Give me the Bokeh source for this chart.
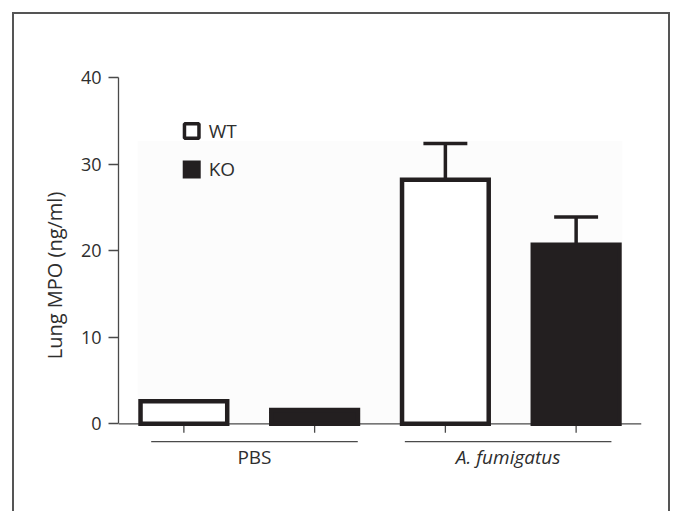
from bokeh.plotting import figure
from bokeh.models import Range1d, FixedTicker
from bokeh.core.properties import value
from bokeh.embed import file_html
from bokeh.resources import INLINE

# ---- data -------------------------------------------------------------
groups = ["PBS", "A. fumigatus"]
genotypes = ["WT", "KO"]
# order: PBS-WT, PBS-KO, A.fum-WT, A.fum-KO
mpo_mean = [2.6, 1.6, 28.2, 20.7]
mpo_err = [0.0, 0.0, 4.2, 3.2]
y_ticks = [0, 10, 20, 30, 40]
y_label = "Lung MPO (ng/ml)"

# ---- styling ----------------------------------------------------------
FONT = "Open Sans"
TXT = "#2e2e2e"
INK = "#231f20"
AXC = "#4a4a4a"

xs = [1, 2, 3, 4]
fills = ["white" if i % 2 == 0 else INK for i in range(len(xs))]
bar_w = 0.663

Y0, Y1 = -7.71, 42.0
FRAME_H = 430
px_per_unit = FRAME_H / (Y1 - Y0)

p = figure(width=658, height=499, output_backend="svg", toolbar_location=None,
           x_range=Range1d(0.5, 4.5), y_range=Range1d(Y0, Y1),
           x_axis_location=None, y_axis_location="left",
           min_border_left=104, min_border_right=31,
           min_border_top=46, min_border_bottom=23)
p.grid.visible = False
p.outline_line_color = None
p.background_fill_color = "white"
p.border_fill_color = "white"
p.styles = {"border-top": "2px solid #555555", "border-left": "2px solid #555555",
            "border-right": "2px solid #555555",
            "position": "relative", "left": "12px", "top": "12px"}

# faint backdrop behind the bars (as in the scanned figure)
p.quad(left=[xs[0] - 0.353], right=[xs[-1] + 0.353], bottom=[0],
       top=[max(m + e for m, e in zip(mpo_mean, mpo_err)) + 0.3],
       fill_color="#fcfcfc", line_color=None)

# y axis
ya = p.yaxis[0]
ya.ticker = FixedTicker(ticks=y_ticks)
ya.bounds = (0, 40)
ya.major_tick_out = 10
ya.major_tick_in = 0
ya.minor_tick_out = 0
ya.minor_tick_in = 0
ya.axis_line_color = AXC
ya.axis_line_width = 1.3
ya.major_tick_line_color = AXC
ya.major_tick_line_width = 1.3
ya.major_label_standoff = 7
ya.major_label_text_font = FONT
ya.major_label_text_font_size = "18px"
ya.major_label_text_color = TXT
ya.axis_label = y_label
ya.axis_label_text_font = FONT
ya.axis_label_text_font_size = "20px"
ya.axis_label_text_font_style = "normal"
ya.axis_label_text_color = TXT
ya.axis_label_standoff = 10

# x baseline at y = 0 with a tick under each bar
tick_len = 9 / px_per_unit
p.segment(x0=[0.5], y0=[0], x1=[4.5], y1=[0], line_color=AXC, line_width=1.3)
p.segment(x0=xs, y0=[0] * len(xs), x1=xs, y1=[-tick_len] * len(xs),
          line_color=AXC, line_width=1.3)

# bars
p.vbar(x=xs, top=mpo_mean, bottom=0, width=bar_w, fill_color=fills,
       line_color=INK, line_width=4.5, line_join="miter")

# error bars (upper only)
ex = [x for x, e in zip(xs, mpo_err) if e > 0]
e0 = [m for m, e in zip(mpo_mean, mpo_err) if e > 0]
e1 = [m + e for m, e in zip(mpo_mean, mpo_err) if e > 0]
cap = 0.168
p.segment(x0=ex, y0=e0, x1=ex, y1=e1, line_color=INK, line_width=3.5)
p.segment(x0=[x - cap for x in ex], y0=e1, x1=[x + cap for x in ex], y1=e1,
          line_color=INK, line_width=3.5)

# group underlines and labels
g_centers = [1.54, 3.48]
half = 0.79
p.segment(x0=[c - half for c in g_centers], y0=[-2.05] * 2,
          x1=[c + half for c in g_centers], y1=[-2.05] * 2,
          line_color=AXC, line_width=1.3)
p.text(x=[g_centers[0]], y=[-3.78], text=[groups[0]], text_align="center",
       text_baseline="middle", text_font=value(FONT), text_font_size="19px",
       text_color=TXT)
p.text(x=[g_centers[1]], y=[-3.78], text=[groups[1]], text_align="center",
       text_baseline="middle", text_font=value(FONT), text_font_size="19px",
       text_font_style="italic", text_color=TXT)

# legend (manual)
leg_x = 1.06
leg_y = [33.85, 29.4]
p.scatter(x=[leg_x], y=[leg_y[0]], marker="square", size=14.5,
          fill_color="white", line_color=INK, line_width=3.5)
p.scatter(x=[leg_x], y=[leg_y[1]], marker="square", size=18,
          fill_color=INK, line_color=None)
p.text(x=[1.19, 1.19], y=leg_y, text=genotypes, text_align="left",
       text_baseline="middle", text_font=value(FONT), text_font_size="19px",
       text_color=TXT)

open("out.html", "w").write(file_html(p, INLINE))
